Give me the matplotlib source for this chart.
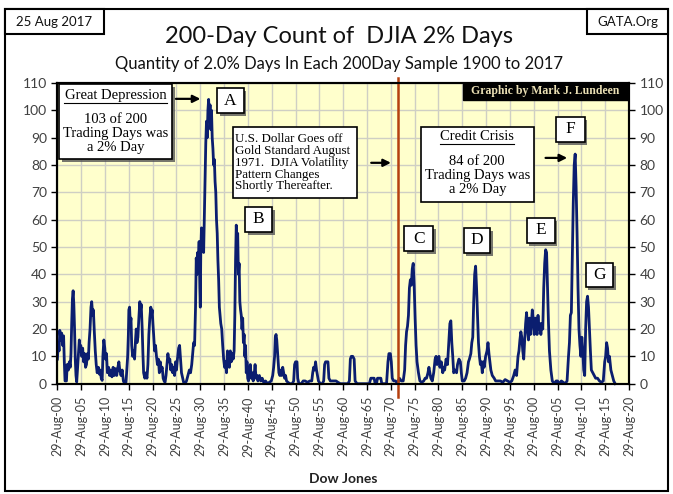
import matplotlib
matplotlib.use("Agg")
import matplotlib.pyplot as plt
from matplotlib.patches import Rectangle
from matplotlib import patheffects

# ============================
# DATA
# ============================
years = [
    1900.0, 1900.2, 1900.35, 1900.5, 1900.7, 1900.9, 1901.1, 1901.3, 1901.45, 1901.6,
    1901.9, 1902.05, 1902.3, 1902.5, 1902.7, 1902.85, 1903.0, 1903.15, 1903.3, 1903.45,
    1903.6, 1903.75, 1903.9, 1904.05, 1904.25, 1904.45, 1904.6, 1904.75, 1904.9, 1905.1,
    1905.3, 1905.5, 1905.7, 1905.9, 1906.1, 1906.3, 1906.5, 1906.65, 1906.85, 1907.05,
    1907.2, 1907.4, 1907.55, 1907.75, 1907.95, 1908.15, 1908.35, 1908.6, 1908.8, 1909.0,
    1909.2, 1909.4, 1909.55, 1909.75, 1909.95, 1910.1, 1910.3, 1910.5, 1910.75, 1910.95,
    1911.2, 1911.45, 1911.7, 1911.95, 1912.2, 1912.45, 1912.7, 1912.9, 1913.1, 1913.35,
    1913.6, 1913.85, 1914.1, 1914.4, 1914.6, 1914.75, 1914.9, 1915.0, 1915.15, 1915.3,
    1915.45, 1915.6, 1915.8, 1916.0, 1916.2, 1916.4, 1916.55, 1916.7, 1916.9, 1917.1,
    1917.3, 1917.45, 1917.6, 1917.8, 1917.95, 1918.1, 1918.35, 1918.6, 1918.8, 1919.0,
    1919.2, 1919.4, 1919.6, 1919.75, 1919.9, 1920.05, 1920.2, 1920.4, 1920.6, 1920.8,
    1921.0, 1921.2, 1921.4, 1921.6, 1921.8, 1922.0, 1922.2, 1922.4, 1922.6, 1922.8,
    1923.0, 1923.2, 1923.4, 1923.6, 1923.8, 1924.0, 1924.2, 1924.4, 1924.6, 1924.8,
    1925.0, 1925.2, 1925.45, 1925.65, 1925.85, 1926.05, 1926.3, 1926.5, 1926.8, 1927.1,
    1927.4, 1927.7, 1927.95, 1928.2, 1928.4, 1928.6, 1928.8, 1929.0, 1929.15, 1929.3,
    1929.45, 1929.6, 1929.75, 1929.9, 1930.0, 1930.1, 1930.25, 1930.4, 1930.55, 1930.7,
    1930.85, 1931.0, 1931.15, 1931.3, 1931.45, 1931.6, 1931.75, 1931.9, 1932.05, 1932.2,
    1932.35, 1932.5, 1932.65, 1932.8, 1932.95, 1933.1, 1933.25, 1933.4, 1933.55, 1933.7,
    1933.85, 1934.0, 1934.15, 1934.3, 1934.5, 1934.7, 1934.9, 1935.1, 1935.3, 1935.5,
    1935.7, 1935.9, 1936.1, 1936.3, 1936.5, 1936.7, 1936.9, 1937.1, 1937.25, 1937.4,
    1937.55, 1937.7, 1937.85, 1938.0, 1938.15, 1938.3, 1938.45, 1938.6, 1938.75, 1938.9,
    1939.05, 1939.2, 1939.35, 1939.5, 1939.65, 1939.8, 1939.95, 1940.1, 1940.3, 1940.5,
    1940.7, 1940.9, 1941.1, 1941.3, 1941.5, 1941.7, 1941.9, 1942.1, 1942.4, 1942.7,
    1943.0, 1943.3, 1943.7, 1944.1, 1944.5, 1944.9, 1945.2, 1945.4, 1945.6, 1945.75,
    1945.9, 1946.05, 1946.2, 1946.35, 1946.5, 1946.7, 1946.9, 1947.1, 1947.3, 1947.5,
    1947.7, 1947.9, 1948.1, 1948.4, 1948.8, 1949.3, 1949.6, 1949.8, 1950.0, 1950.3,
    1950.45, 1950.7, 1951.2, 1951.6, 1952.0, 1952.5, 1953.0, 1953.4, 1953.6, 1953.8,
    1954.0, 1954.2, 1954.4, 1954.6, 1954.8, 1955.2, 1955.6, 1955.9, 1956.1, 1956.3,
    1956.8, 1957.0, 1957.3, 1957.7, 1958.1, 1958.5, 1958.9, 1959.4, 1959.8, 1960.2,
    1960.6, 1961.0, 1961.3, 1961.5, 1961.7, 1962.0, 1962.3, 1962.5, 1962.9, 1963.5,
    1964.1, 1964.6, 1965.0, 1965.5, 1965.8, 1966.1, 1966.5, 1966.7, 1967.0, 1967.2,
    1967.5, 1967.9, 1968.1, 1968.6, 1969.1, 1969.4, 1969.6, 1969.9, 1970.1, 1970.3,
    1970.6, 1971.0, 1971.4, 1971.8, 1972.2, 1972.6, 1972.9, 1973.1, 1973.3, 1973.5,
    1973.7, 1973.9, 1974.1, 1974.3, 1974.5, 1974.7, 1974.9, 1975.1, 1975.3, 1975.5,
    1975.8, 1976.1, 1976.5, 1976.9, 1977.2, 1977.5, 1977.8, 1978.0, 1978.2, 1978.4,
    1978.7, 1979.0, 1979.3, 1979.5, 1979.7, 1979.9, 1980.1, 1980.3, 1980.6, 1980.9,
    1981.1, 1981.3, 1981.6, 1981.9, 1982.2, 1982.4, 1982.6, 1982.8, 1983.0, 1983.2,
    1983.5, 1983.8, 1984.0, 1984.3, 1984.6, 1984.8, 1985.0, 1985.4, 1985.7, 1986.0,
    1986.3, 1986.5, 1986.8, 1987.0, 1987.2, 1987.4, 1987.6, 1987.8, 1988.0, 1988.2,
    1988.4, 1988.6, 1988.8, 1989.0, 1989.2, 1989.4, 1989.6, 1989.9, 1990.2, 1990.4,
    1990.6, 1990.8, 1991.0, 1991.3, 1991.7, 1992.0, 1992.5, 1993.0, 1993.5, 1994.0,
    1994.5, 1995.0, 1995.4, 1995.8, 1996.1, 1996.4, 1996.7, 1996.9, 1997.1, 1997.3,
    1997.5, 1997.7, 1997.9, 1998.1, 1998.3, 1998.5, 1998.7, 1998.9, 1999.1, 1999.3,
    1999.5, 1999.7, 1999.9, 2000.1, 2000.3, 2000.5, 2000.7, 2000.9, 2001.1, 2001.3,
    2001.5, 2001.7, 2001.9, 2002.1, 2002.3, 2002.5, 2002.7, 2002.9, 2003.1, 2003.3,
    2003.6, 2003.9, 2004.3, 2004.7, 2005.0, 2005.4, 2005.8, 2006.2, 2006.6, 2007.0,
    2007.3, 2007.5, 2007.7, 2007.9, 2008.1, 2008.3, 2008.5, 2008.7, 2008.9, 2009.1,
    2009.3, 2009.5, 2009.7, 2009.9, 2010.1, 2010.3, 2010.5, 2010.7, 2010.9, 2011.1,
    2011.3, 2011.5, 2011.7, 2011.9, 2012.1, 2012.4, 2012.7, 2013.0, 2013.4, 2013.8,
    2014.2, 2014.6, 2014.9, 2015.1, 2015.3, 2015.5, 2015.7, 2015.9, 2016.2, 2016.5,
    2016.8, 2017.1,
]
counts = [
    9, 15, 12, 19.5, 16, 18.5, 14, 17.5, 8, 1,
    1, 7, 5, 8, 6, 11, 22, 31, 34, 29,
    20, 9, 3, 0.6, 6, 12, 16, 12, 14, 10,
    13, 8, 11, 6, 7, 11, 9, 15, 20, 28,
    30, 25, 27, 19, 12, 7, 4, 6, 3.5, 5,
    2, 1.2, 10, 16, 13, 9, 11, 4, 6, 3,
    5, 2.5, 6, 3, 5.5, 3, 6, 8, 5, 3,
    5, 1, 0, 0.5, 6, 10, 18, 27, 28, 22,
    24, 14, 10, 12, 9, 16, 20, 15, 17, 24,
    30, 27, 29, 20, 11, 4, 2, 4, 2, 7,
    18, 24, 28, 25, 27, 22, 18, 12, 14, 10,
    7, 9, 4, 8, 5, 6, 2, 1, 0.5, 3,
    7, 11, 8, 9, 5, 7, 4, 6, 3, 8,
    5, 9, 13, 14, 9, 4, 2, 0.5, 0, 1,
    3, 5, 4, 7, 11, 15, 14, 28, 46, 40,
    48, 44, 52, 35, 28, 48, 57, 50, 55, 48,
    62, 75, 88, 96, 90, 100, 104, 97, 102, 93,
    100, 90, 86, 80, 82, 74, 70, 60, 55, 45,
    38, 28, 25, 22, 20, 14, 9, 6, 8, 4,
    12, 11, 6, 12, 8, 11, 9, 12, 25, 45,
    58, 52, 55, 40, 44, 30, 27, 25, 20, 24,
    15, 18, 10, 14, 4, 8, 2, 1, 5, 7,
    2, 4, 1, 3, 7, 2, 3, 1, 3, 1,
    2, 0.5, 1, 0, 0.5, 1, 3, 6, 10, 17,
    18, 16, 12, 8, 4, 3, 5, 3, 6, 4,
    2, 3, 1, 0.5, 0, 0, 1, 7, 8, 8,
    2, 0, 0, 1, 1, 0.5, 1, 1, 4, 6,
    5, 8, 5, 3, 1, 0, 0, 1, 7, 8,
    8, 2, 1, 1, 1, 1, 0.5, 0, 0, 0,
    0, 0, 1, 9, 10, 10, 9, 1, 0, 0,
    0, 0, 0, 0, 2, 2, 2, 0, 0, 2,
    2, 2, 0, 0, 0, 8, 11, 11, 8, 2,
    1, 1, 0, 2, 1, 1, 5, 14, 19, 21,
    25, 35, 38, 36, 42, 44, 36, 24, 14, 8,
    4, 1, 0.5, 1, 2, 2, 4, 6, 4, 2,
    1, 4, 9, 10, 7, 9, 10, 6, 8, 4,
    6, 5, 9, 7, 16, 22, 23, 15, 10, 4,
    5, 4, 7, 9, 8, 4, 1, 1, 2, 4,
    8, 9, 11, 15, 17, 30, 40, 43, 35, 25,
    15, 10, 7, 8, 4, 8, 6, 10, 12, 15,
    11, 8, 5, 3, 2, 1, 1, 1, 0.5, 1.5,
    1, 0.5, 1, 3, 5, 3, 10, 12, 16, 19,
    17, 12, 9, 16, 22, 26, 20, 16, 24, 18,
    22, 27, 23, 18, 24, 22, 18, 25, 20, 22,
    18, 22, 20, 35, 44, 49, 48, 35, 22, 12,
    5, 1, 0, 1, 1, 0, 1, 0.5, 0, 1,
    10, 15, 25, 26, 45, 66, 80, 84, 72, 55,
    35, 20, 14, 10, 17, 12, 5, 3, 20, 30,
    32, 28, 20, 12, 5, 4, 3, 2, 2, 1,
    0.5, 1, 8, 10, 15, 13, 8, 10, 5, 3,
    1, 0,
]

tick_years = list(range(1900, 2021, 5))
tick_labels = [f"29-Aug-{y % 100:02d}" for y in tick_years]
y_ticks = list(range(0, 111, 10))
gold_standard_year = 1971.5

sans = ["Lato", "DejaVu Sans"]
serif = ["Liberation Serif", "DejaVu Serif"]
gray = "#404040"

# ============================
# FIGURE
# ============================
fig = plt.figure(figsize=(6.73, 4.94), dpi=100)
ax = fig.add_axes([0.0853, 0.2233, 0.8493, 0.6087])
ax.set_facecolor("#FFFFCC")

ax.plot(years, counts, color="#0B1E6F", lw=2.0, zorder=3, clip_on=False,
        solid_joinstyle="round")
ax.plot([gold_standard_year, gold_standard_year], [-5, 111.8], color="#B5400F",
        lw=1.8, zorder=4, clip_on=False)

ax.set_xlim(1900, 2020)
ax.set_ylim(0, 110)
ax.set_xticks(tick_years)
ax.set_xticklabels(tick_labels, rotation=90, family=sans, fontsize=9, color=gray)
ax.set_yticks(y_ticks)
ax.set_yticklabels([str(v) for v in y_ticks], family=sans, fontsize=10, color=gray)
ax.grid(color="#CFCFC4", lw=1.0, zorder=0)
ax.set_axisbelow(True)
ax.tick_params(direction="out", length=4, width=1, color="black")
ax.tick_params(axis="x", pad=5)
for s in ax.spines.values():
    s.set_linewidth(1.5)

ax2 = ax.twinx()
ax2.set_ylim(0, 110)
ax2.set_yticks(y_ticks)
ax2.set_yticklabels([str(v) for v in y_ticks], family=sans, fontsize=10, color=gray)
ax2.tick_params(direction="out", length=4, width=1, color="black")
for s in ax2.spines.values():
    s.set_linewidth(1.5)

ax.set_xlabel("Dow Jones", family=sans, fontsize=10, fontweight="bold", color="#222222",
              labelpad=12)

shadow = [patheffects.withSimplePatchShadow(offset=(2, -2), shadow_rgbFace="#555555", alpha=0.8)]


def box(x0, x1, y0, y1, fc="white", fx=True):
    r = Rectangle((x0, y0), x1 - x0, y1 - y0, fc=fc, ec="black", lw=1.2, zorder=6,
                  clip_on=False)
    if fx:
        r.set_path_effects(shadow)
    ax.add_patch(r)


def letter(ch, x0, x1, y0, y1):
    box(x0, x1, y0, y1)
    ax.text((x0 + x1) / 2, (y0 + y1) / 2, ch, ha="center", va="center", family=serif,
            fontsize=12.5, zorder=7)


def arrow(x0, x1, y):
    ax.annotate("", xy=(x1, y), xytext=(x0, y), zorder=7,
                arrowprops=dict(arrowstyle="-|>", color="black", lw=1.6, mutation_scale=11))


# Great Depression
box(1900.3, 1924.0, 82.1, 109.7)
ax.text(1912.2, 105.6, "Great Depression", ha="center", va="center", family=serif,
        fontsize=10.5, zorder=7)
ax.plot([1901.3, 1923.1], [102.6, 102.6], color="black", lw=0.8, zorder=7)
ax.text(1912.2, 91.4, "103 of 200\nTrading Days was\na 2% Day", ha="center", va="center",
        family=serif, fontsize=10.5, linespacing=1.1, zorder=7)
arrow(1924.3, 1930.6, 104.2)
letter("A", 1933.5, 1939.1, 98.9, 108.1)

# gold standard note
box(1936.8, 1962.8, 67.9, 93.9, fx=False)
ax.text(1937.3, 80.8, "U.S. Dollar Goes off\nGold Standard August\n1971.  DJIA Volatility\n"
        "Pattern Changes\nShortly Thereafter.", ha="left", va="center", family=serif,
        fontsize=9.4, linespacing=0.98, zorder=7)
arrow(1965.3, 1970.6, 80.8)
letter("B", 1939.4, 1945.0, 55.5, 64.7)

# Credit Crisis
box(1976.3, 2000.0, 66.5, 93.9, fx=False)
ax.text(1988.15, 90.6, "Credit Crisis", ha="center", va="center", family=serif,
        fontsize=10.5, zorder=7)
ax.plot([1980.4, 1995.9], [87.8, 87.8], color="black", lw=0.8, zorder=7)
ax.text(1988.15, 76.0, "84 of 200\nTrading Days was\na 2% Day", ha="center", va="center",
        family=serif, fontsize=10.5, linespacing=1.1, zorder=7)
arrow(2001.9, 2007.6, 82.6)

letter("C", 1972.8, 1978.9, 48.5, 57.7)
letter("D", 1985.3, 1990.9, 47.8, 57.0)
letter("E", 1998.5, 2004.4, 51.5, 60.6)
letter("F", 2004.6, 2010.7, 88.4, 97.6)
letter("G", 2010.9, 2016.6, 35.4, 44.1)

# credit banner
ax.add_patch(Rectangle((1985.1, 103.8), 2020 - 1985.1, 6.2, fc="black", ec="black", zorder=6))
ax.text(2002.5, 106.9, "Graphic by Mark J. Lundeen", ha="center", va="center", family=serif,
        fontsize=8.5, fontweight="bold", color="#EADFB4", zorder=7)

# ============================
# TITLES / FRAME
# ============================
fig.text(0.504, 0.927, "200-Day Count of  DJIA 2% Days", ha="center", va="center",
         family=sans, fontsize=17, color="#111111")
fig.text(0.504, 0.871, "Quantity of 2.0% Days In Each 200Day Sample 1900 to 2017",
         ha="center", va="center", family=sans, fontsize=12, color="#111111")

fig.add_artist(Rectangle((5 / 673, 1 - 491 / 494), 663 / 673, 482 / 494,
                         transform=fig.transFigure, fill=False, ec="black", lw=1.5))
fig.add_artist(Rectangle((5 / 673, 1 - 34 / 494), 99 / 673, 25 / 494,
                         transform=fig.transFigure, fc="white", ec="black", lw=1.5))
fig.add_artist(Rectangle((587 / 673, 1 - 34 / 494), 81 / 673, 25 / 494,
                         transform=fig.transFigure, fc="white", ec="black", lw=1.5))
fig.text(54.5 / 673, 1 - 21.5 / 494, "25 Aug 2017", ha="center", va="center",
         family=sans, fontsize=9.5, color="#111111")
fig.text(627.5 / 673, 1 - 21.5 / 494, "GATA.Org", ha="center", va="center",
         family=sans, fontsize=9.5, color="#111111")

fig.savefig("out.png", dpi=100)
